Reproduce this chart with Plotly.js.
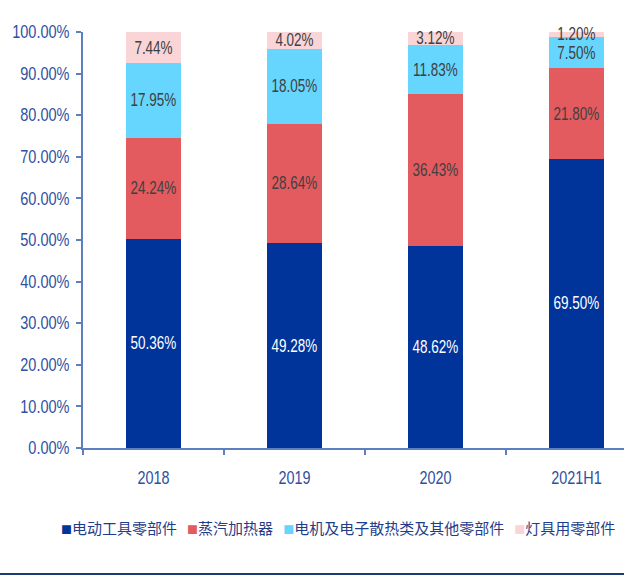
<!DOCTYPE html>
<html>
<head>
<meta charset="utf-8">
<script src="https://cdn.plot.ly/plotly-3.0.1.min.js"></script>
<style>html,body{margin:0;padding:0;background:#fff;}#chart{width:635px;height:576px;}</style>
</head>
<body>
<div id="chart"></div>
<script>
const categories = ['2018', '2019', '2020', '2021H1'];
const seriesNames = ['电动工具零部件', '蒸汽加热器', '电机及电子散热类及其他零部件', '灯具用零部件'];
const powerTools = [50.36, 49.28, 48.62, 69.50];
const steamHeaters = [24.24, 28.64, 36.43, 21.80];
const motorParts = [17.95, 18.05, 11.83, 7.50];
const lampParts = [7.44, 4.02, 3.12, 1.20];
const colors = ['#00349A', '#E35B5E', '#66D6FF', '#F9D5D7'];
const labelColors = ['#FFFFFF', '#404040', '#404040', '#404040'];
const seriesValues = [powerTools, steamHeaters, motorParts, lampParts];

const numFont = 'Liberation Sans, Arial, sans-serif';
const traces = seriesValues.map((vals, i) => ({
  type: 'bar',
  name: seriesNames[i],
  x: categories,
  y: vals.map(v => v / 100),
  text: vals.map(v => v.toFixed(2) + '%'),
  textposition: 'inside',
  insidetextanchor: 'middle',
  constraintext: 'none',
  cliponaxis: false,
  textangle: 0,
  textfont: {family: numFont, size: 18, color: labelColors[i]},
  marker: {color: colors[i], line: {width: 0}},
  hoverinfo: 'skip'
}));

const legendText = seriesNames.map((n, i) =>
  '<span style="color:' + colors[i] + ';font-size:11px">■</span>' + n
).join('   ');

const layout = {
  width: 635, height: 576,
  margin: {l: 83, r: 11, t: 32, b: 128},
  barmode: 'stack',
  bargap: 0.61,
  showlegend: false,
  paper_bgcolor: '#fff', plot_bgcolor: '#fff',
  xaxis: {
    type: 'category',
    range: [-0.5, 3.337],
    showline: true, linecolor: '#5B7FBF', linewidth: 2,
    ticks: 'outside', tickson: 'boundaries', ticklen: 5, tickcolor: '#5B7FBF', tickwidth: 2,
    ticklabelstandoff: 12,
    tickfont: {family: numFont, size: 18, color: '#2F4F9F'},
    showgrid: false, zeroline: false
  },
  yaxis: {
    range: [0, 1],
    tickvals: [0, 0.1, 0.2, 0.3, 0.4, 0.5, 0.6, 0.7, 0.8, 0.9, 1.0],
    tickformat: '.2%',
    showline: true, linecolor: '#5B7FBF', linewidth: 2,
    ticks: 'outside', ticklen: 5, tickcolor: '#5B7FBF', tickwidth: 2,
    ticklabelstandoff: 3,
    tickfont: {family: numFont, size: 17.5, color: '#2F4F9F'},
    showgrid: false, zeroline: false
  },
  annotations: [{
    xref: 'paper', yref: 'paper',
    x: (338 - 83) / 541, y: (448 - 527) / 416,
    xanchor: 'center', yanchor: 'middle',
    showarrow: false,
    text: legendText,
    font: {family: 'Noto Sans CJK SC, sans-serif', size: 15, color: '#1F3D8A'}
  }],
  shapes: [{
    type: 'line', xref: 'paper', yref: 'paper',
    x0: -83 / 541, x1: 1.0, y0: (448 - 574) / 416, y1: (448 - 574) / 416,
    line: {color: '#1F3A7A', width: 2}
  }]
};

// Narrow the numeric text horizontally to imitate the condensed face of the original.
function squeeze(selector, sx, anchor) {
  document.querySelectorAll(selector).forEach(t => {
    const b = t.getBBox();
    const ax = anchor === 'end' ? b.x + b.width : b.x + b.width / 2;
    const cy = b.y + b.height / 2;
    const prev = t.getAttribute('transform') || '';
    t.setAttribute('transform', prev + ' translate(' + ax + ',' + cy + ') scale(' + sx + ',1) translate(' + (-ax) + ',' + (-cy) + ')');
  });
}

Plotly.newPlot('chart', traces, layout, {displayModeBar: false, staticPlot: true}).then(() => {
  squeeze('#chart .ytick text', 0.83, 'end');
  squeeze('#chart .xtick text', 0.8, 'middle');
  squeeze('#chart text.bartext', 0.75, 'middle');
});
</script>
</body>
</html>
